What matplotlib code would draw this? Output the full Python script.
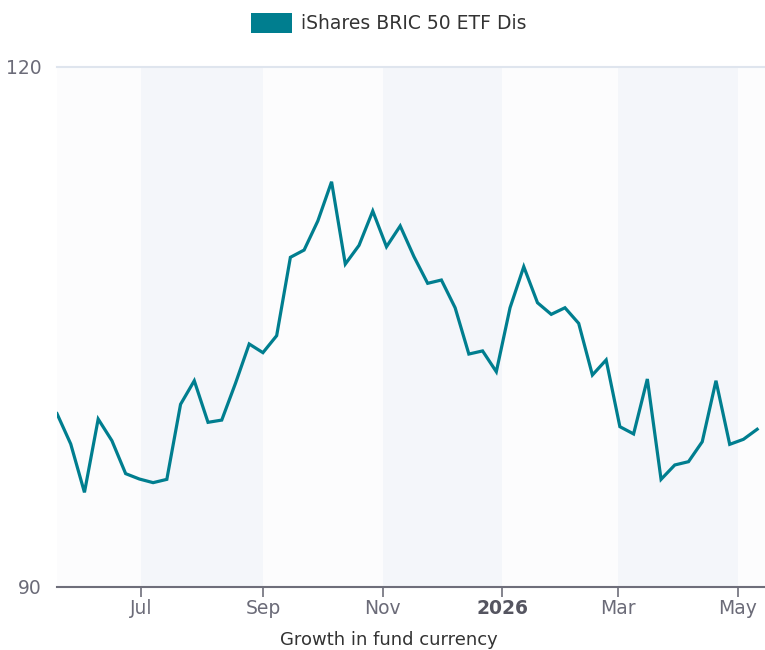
import numpy as np
import matplotlib
matplotlib.use('Agg')
import matplotlib.pyplot as plt
import matplotlib.dates as mdates
from matplotlib.patches import Patch

# Weekly growth values (fund currency)
start_date = '2025-05-19'
values = [100.0, 98.25, 95.46, 99.69, 98.44, 96.54, 96.23, 96.02, 96.21, 100.54,
          101.90, 99.50, 99.63, 101.75, 104.02, 103.52, 104.50, 109.02, 109.44, 111.12,
          113.38, 108.63, 109.71, 111.69, 109.63, 110.83, 109.06, 107.52, 107.71, 106.11,
          103.44, 103.62, 102.42, 106.11, 108.48, 106.40, 105.73, 106.11, 105.21, 102.23,
          103.10, 99.25, 98.83, 102.00, 96.21, 97.04, 97.23, 98.38, 101.90, 98.23,
          98.52, 99.10]
series_name = 'iShares BRIC 50 ETF Dis'
tick_dates = ['2025-07-01', '2025-09-01', '2025-11-01', '2026-01-01', '2026-03-01', '2026-05-01']
tick_labels = ['Jul', 'Sep', 'Nov', '2026', 'Mar', 'May']
band_edges = ['2025-07-01', '2025-09-01', '2025-11-01', '2026-01-01', '2026-03-01', '2026-05-01']

dates = np.datetime64(start_date) + np.arange(len(values)) * np.timedelta64(7, 'D')
x = mdates.date2num(dates.astype('datetime64[D]').astype(object))
ticks = mdates.date2num([np.datetime64(d).astype(object) for d in tick_dates])
bands = mdates.date2num([np.datetime64(d).astype(object) for d in band_edges])

line_color = '#007e8f'
fs = 13.5

fig = plt.figure(figsize=(7.65, 6.5), dpi=100)
ax = fig.add_axes([57 / 765, 1 - 587 / 650, 1 - 57 / 765, 520 / 650])
ax.set_facecolor('#fcfcfd')

# alternating shaded bands
for i in range(0, len(bands) - 1, 2):
    ax.axvspan(bands[i], bands[i + 1], color='#f4f6fa', lw=0, zorder=0)

ax.plot(x, values, color=line_color, lw=2.3, zorder=3, solid_joinstyle='miter')

ax.set_xlim(x[0], mdates.date2num(np.datetime64('2026-05-15').astype(object)))
ax.set_ylim(90, 120)
ax.set_yticks([90, 120])
ax.set_yticklabels(['90', '120'])
ax.axhline(120, color='#dfe5ee', lw=1.5, zorder=1, clip_on=False)

ax.set_xticks(ticks)
ax.set_xticklabels(tick_labels)
for lab in ax.get_xticklabels():
    lab.set_color('#6b6b78')
    lab.set_fontsize(fs)
    if lab.get_text() == '2026':
        lab.set_fontweight('bold')
        lab.set_color('#555560')

for side in ['top', 'right', 'left']:
    ax.spines[side].set_visible(False)
ax.spines['bottom'].set_color('#6e6e7a')
ax.spines['bottom'].set_linewidth(1.5)
ax.tick_params(axis='x', length=7, width=1.2, color='#6e6e7a', pad=2)
ax.tick_params(axis='y', length=0, labelsize=fs, labelcolor='#6b6b78', pad=11)

ax.set_xlabel('Growth in fund currency', fontsize=13, color='#333333')
ax.xaxis.set_label_coords((389 - 57) / 708, -0.085)

handle = Patch(facecolor=line_color, edgecolor='none', label=series_name)
fig.legend(handles=[handle], loc='upper center', bbox_to_anchor=(0.508, 1.0),
           frameon=False, fontsize=fs, handlelength=2.2, handleheight=1.23,
           handletextpad=0.5, labelcolor='#333333', borderaxespad=0.3)

fig.savefig('out.png', dpi=100)
